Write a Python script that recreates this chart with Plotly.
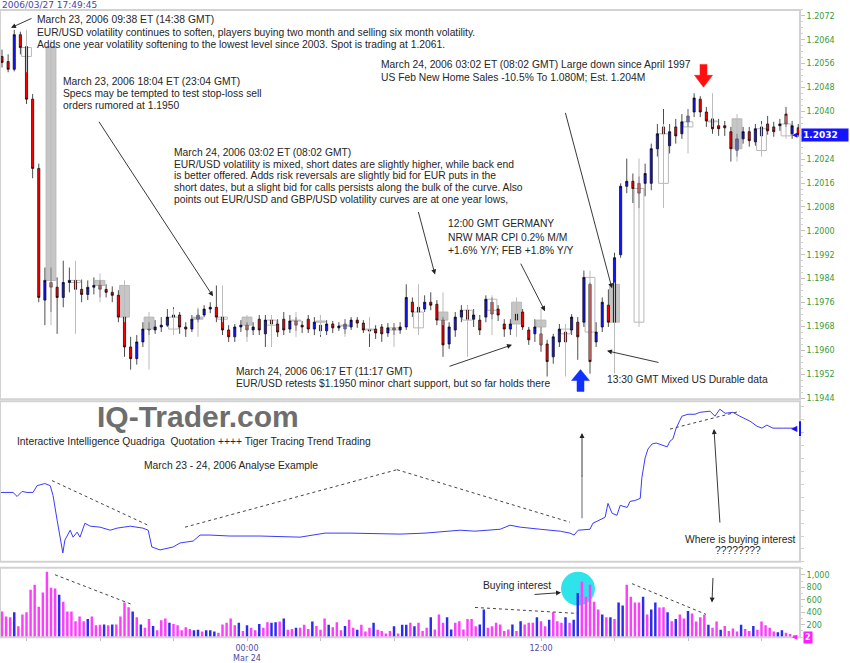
import pandas as pd
import plotly.graph_objects as go

W, H = 850, 663

# ---------------- DATA ----------------
candle_start = "2006-03-23 14:00"   # 15-minute EUR/USD candles
open_p = [1.20584, 1.20567, 1.20541, 1.20657, 1.20617, 1.20441, 1.20209, 1.19768, 1.19827, 1.19811,
          1.19777, 1.19827, 1.19834, 1.19804, 1.19787, 1.19811, 1.19817, 1.19804, 1.19794, 1.19784,
          1.19711, 1.19611, 1.19572, 1.19628, 1.19671, 1.19668, 1.19678, 1.19684, 1.19711, 1.19718,
          1.19678, 1.19671, 1.19704, 1.19718, 1.19738, 1.19744, 1.19711, 1.19668, 1.19645, 1.19678,
          1.19684, 1.19668, 1.19704, 1.19655, 1.19701, 1.19688, 1.19704, 1.19671, 1.19698, 1.19684,
          1.19704, 1.19671, 1.19684, 1.19665, 1.19688, 1.19675, 1.19671, 1.19678, 1.19701, 1.19691,
          1.19668, 1.19671, 1.19678, 1.19658, 1.19675, 1.19668, 1.19678, 1.19761, 1.19728, 1.19738,
          1.19761, 1.19754, 1.19701, 1.19621, 1.19668, 1.19711, 1.19734, 1.19704, 1.19701, 1.19711,
          1.19761, 1.19738, 1.19688, 1.19671, 1.19701, 1.19728, 1.19668, 1.19655, 1.19655, 1.19621,
          1.19578, 1.19628, 1.19661, 1.19668, 1.19694, 1.19694, 1.19821, 1.19628, 1.19678, 1.19751,
          1.19694, 1.19920, 1.20149, 1.20166, 1.20159, 1.20159, 1.20159, 1.20275, 1.20348, 1.20285,
          1.20348, 1.20325, 1.20365, 1.20398, 1.20441, 1.20398, 1.20375, 1.20352, 1.20352, 1.20332,
          1.20269, 1.20308, 1.20332, 1.20298, 1.20318, 1.20358, 1.20348, 1.20352, 1.20391, 1.20325,
          1.20345]
close_p = [1.20564, 1.20541, 1.20657, 1.20614, 1.20441, 1.20209, 1.19777, 1.19834, 1.19811, 1.19777,
           1.19827, 1.19834, 1.19804, 1.19787, 1.19811, 1.19817, 1.19804, 1.19794, 1.19784, 1.19711,
           1.19611, 1.19572, 1.19628, 1.19671, 1.19668, 1.19678, 1.19684, 1.19711, 1.19718, 1.19678,
           1.19671, 1.19704, 1.19718, 1.19738, 1.19744, 1.19711, 1.19668, 1.19645, 1.19678, 1.19684,
           1.19668, 1.19678, 1.19668, 1.19701, 1.19688, 1.19661, 1.19668, 1.19698, 1.19684, 1.19678,
           1.19671, 1.19694, 1.19665, 1.19688, 1.19675, 1.19681, 1.19688, 1.19701, 1.19691, 1.19668,
           1.19665, 1.19658, 1.19655, 1.19675, 1.19668, 1.19678, 1.19777, 1.19728, 1.19744, 1.19761,
           1.19751, 1.19701, 1.19618, 1.19678, 1.19711, 1.19734, 1.19704, 1.19718, 1.19668, 1.19771,
           1.19721, 1.19718, 1.19671, 1.19688, 1.19721, 1.19678, 1.19635, 1.19678, 1.19618, 1.19562,
           1.19645, 1.19671, 1.19628, 1.19711, 1.19645, 1.19844, 1.19562, 1.19661, 1.19761, 1.19694,
           1.19910, 1.20149, 1.20166, 1.20142, 1.20126, 1.20192, 1.20275, 1.20325, 1.20325, 1.20332,
           1.20318, 1.20365, 1.20385, 1.20445, 1.20398, 1.20368, 1.20342, 1.20342, 1.20345, 1.20275,
           1.20308, 1.20332, 1.20302, 1.20342, 1.20348, 1.20335, 1.20332, 1.20358, 1.20358, 1.20352,
           1.20322]
high_p = [1.20607, 1.20591, 1.20673, 1.20667, 1.20640, 1.20458, 1.20225, 1.19877, 1.19877, 1.19844,
          1.19900, 1.19877, 1.19857, 1.19837, 1.19834, 1.19844, 1.19834, 1.19821, 1.19814, 1.19801,
          1.19728, 1.19645, 1.19651, 1.19694, 1.19694, 1.19701, 1.19711, 1.19738, 1.19744, 1.19728,
          1.19694, 1.19718, 1.19738, 1.19751, 1.19761, 1.19817, 1.19718, 1.19684, 1.19688, 1.19701,
          1.19694, 1.19694, 1.19718, 1.19718, 1.19718, 1.19704, 1.19728, 1.19718, 1.19711, 1.19698,
          1.19718, 1.19711, 1.19694, 1.19701, 1.19698, 1.19694, 1.19704, 1.19711, 1.19711, 1.19701,
          1.19684, 1.19684, 1.19688, 1.19691, 1.19691, 1.19694, 1.19821, 1.19777, 1.19761, 1.19784,
          1.19794, 1.19768, 1.19711, 1.19694, 1.19728, 1.19751, 1.19751, 1.19738, 1.19718, 1.19784,
          1.19777, 1.19751, 1.19704, 1.19704, 1.19738, 1.19738, 1.19678, 1.19704, 1.19678, 1.19635,
          1.19655, 1.19688, 1.19684, 1.19721, 1.19711, 1.19867, 1.19827, 1.19694, 1.19777, 1.19804,
          1.19927, 1.20159, 1.20242, 1.20192, 1.20182, 1.20225, 1.20292, 1.20358, 1.20408, 1.20358,
          1.20375, 1.20391, 1.20408, 1.20461, 1.20451, 1.20415, 1.20391, 1.20375, 1.20368, 1.20348,
          1.20325, 1.20348, 1.20348, 1.20358, 1.20368, 1.20385, 1.20365, 1.20375, 1.20415, 1.20368,
          1.20358]
low_p = [1.20547, 1.20531, 1.20534, 1.20591, 1.20425, 1.20176, 1.19761, 1.19684, 1.19728, 1.19655,
         1.19744, 1.19794, 1.19777, 1.19761, 1.19768, 1.19787, 1.19777, 1.19777, 1.19761, 1.19694,
         1.19578, 1.19535, 1.19552, 1.19611, 1.19651, 1.19655, 1.19661, 1.19678, 1.19694, 1.19655,
         1.19645, 1.19661, 1.19694, 1.19711, 1.19724, 1.19694, 1.19651, 1.19628, 1.19628, 1.19661,
         1.19645, 1.19651, 1.19651, 1.19611, 1.19661, 1.19645, 1.19651, 1.19658, 1.19665, 1.19658,
         1.19658, 1.19651, 1.19645, 1.19651, 1.19658, 1.19665, 1.19655, 1.19668, 1.19675, 1.19658,
         1.19611, 1.19638, 1.19628, 1.19645, 1.19651, 1.19655, 1.19668, 1.19711, 1.19718, 1.19728,
         1.19734, 1.19684, 1.19578, 1.19605, 1.19645, 1.19694, 1.19684, 1.19678, 1.19651, 1.19694,
         1.19704, 1.19698, 1.19645, 1.19651, 1.19684, 1.19668, 1.19618, 1.19628, 1.19595, 1.19512,
         1.19555, 1.19611, 1.19605, 1.19651, 1.19568, 1.19678, 1.19522, 1.19611, 1.19661, 1.19678,
         1.19678, 1.19910, 1.20126, 1.20093, 1.20076, 1.20116, 1.20136, 1.20249, 1.20292, 1.20259,
         1.20292, 1.20308, 1.20348, 1.20381, 1.20381, 1.20348, 1.20325, 1.20318, 1.20318, 1.20232,
         1.20249, 1.20292, 1.20282, 1.20285, 1.20308, 1.20322, 1.20315, 1.20335, 1.20348, 1.20308,
         1.20315]

vol_start = "2006-03-23 14:00"   # 10-minute tick volume
volume = [410, 330, 320, 400, 175, 365, 400, 760, 840, 490,
          715, 1050, 795, 780, 680, 570, 410, 410, 255, 330,
          255, 290, 330, 190, 200, 205, 190, 205, 205, 330,
          555, 480, 410, 320, 205, 150, 290, 180, 110, 270,
          300, 230, 210, 190, 110, 160, 130, 110, 120, 90,
          110, 110, 90, 70, 205, 230, 300, 190, 230, 100,
          190, 150, 110, 210, 150, 240, 230, 240, 250, 300,
          120, 130, 150, 150, 200, 130, 250, 180, 120, 300,
          200, 160, 240, 110, 180, 280, 150, 120, 200, 90,
          150, 230, 120, 100, 60, 100, 175, 60, 200, 200,
          230, 175, 230, 100, 150, 320, 125, 365, 230, 320,
          125, 230, 255, 125, 290, 290, 175, 205, 445, 150,
          175, 230, 205, 100, 125, 205, 100, 255, 205, 230,
          230, 320, 255, 175, 280, 400, 255, 230, 320, 230,
          280, 710, 890, 650, 840, 570, 445, 365, 320, 320,
          290, 555, 510, 840, 650, 555, 555, 650, 365, 445,
          555, 475, 480, 400, 255, 290, 365, 300, 420, 380,
          250, 320, 360, 200, 150, 250, 120, 180, 100, 140,
          90, 200, 130, 100, 180, 120, 250, 190, 150, 90,
          80, 110, 70, 50, 30, 2]
vol_blue_idx = [3, 14, 21, 25, 27, 32, 34, 37, 41, 47, 48, 50, 51, 52, 58, 60, 63, 66, 67, 69,
                72, 76, 80, 84, 87, 91, 96, 98, 99, 101, 105, 109, 110, 117, 118, 125, 127, 131,
                134, 138, 140, 141, 147, 149, 151, 152, 157, 159, 160, 163, 165, 168, 173, 176,
                181, 184, 190, 191]

ind_base = "2006-03-23 13:50"   # trend indicator readings (minutes after base)
ind_minutes = [5, 37, 47, 59, 71, 86, 96, 115, 128, 135, 145, 152, 159, 164, 177, 184, 194, 201,
               213, 226, 250, 275, 292, 324, 355, 368, 377, 397, 414, 429, 446, 463, 478, 495,
               519, 568, 642, 740, 801, 862, 936, 985, 1046, 1075, 1132, 1168, 1230, 1254, 1279,
               1328, 1377, 1401, 1411, 1421, 1450, 1457, 1475, 1487, 1494, 1504, 1516, 1524, 1541,
               1548, 1560, 1573, 1577, 1585, 1592, 1602, 1612, 1629, 1639, 1646, 1653, 1661, 1675,
               1690, 1707, 1719, 1744, 1756, 1768, 1781, 1800, 1817, 1842, 1859, 1871, 1883, 1898,
               1923, 1957]
ind_values = [43.0, 43.0, 40.5, 43.6, 43.0, 43.0, 47.2, 48.5, 47.2, 41.1, 25.8, 16.6, 5.5, 13.5,
              19.6, 15.3, 18.4, 15.3, 23.9, 22.1, 21.5, 19.6, 20.9, 22.1, 20.9, 19.6, 9.2, 7.4,
              8.6, 9.2, 11.7, 12.3, 12.9, 16.6, 16.6, 16.0, 16.0, 15.3, 17.8, 17.8, 17.2, 17.2,
              17.8, 18.4, 19.6, 19.0, 20.2, 22.7, 21.5, 20.2, 19.0, 17.8, 16.6, 19.6, 20.2, 23.9,
              26.4, 27.6, 36.2, 30.1, 28.8, 35.0, 33.7, 37.4, 38.0, 39.3, 52.1, 64.4, 69.9, 73.0,
              73.6, 71.8, 71.2, 74.8, 76.1, 82.8, 90.2, 91.4, 91.4, 92.6, 93.3, 90.2, 94.5, 92.0,
              92.6, 90.2, 87.1, 84.0, 82.8, 84.7, 82.8, 82.8, 82.8]

price_ticks = [1.1944, 1.1952, 1.1960, 1.1968, 1.1976, 1.1984, 1.1992, 1.2000, 1.2008,
               1.2016, 1.2024, 1.2040, 1.2048, 1.2056, 1.2064, 1.2072]
vol_ticks = [200, 400, 600, 800, 1000]
last_price = 1.2032
last_volume = 2

# ---------------- DERIVED ----------------
t15 = pd.date_range(candle_start, periods=len(open_p), freq="15min")
t10 = pd.date_range(vol_start, periods=len(volume), freq="10min")
t_ind = pd.to_datetime(ind_base) + pd.to_timedelta(ind_minutes, unit="min")

# hourly overlay candles aggregated from the 15-minute candles
n = len(open_p)
hx, ho, hc, hh, hl = [], [], [], [], []
for s in range(0, n, 4):
    e = min(s + 4, n)
    hx.append(t15[s] + pd.Timedelta(hours=1))
    ho.append(open_p[s]); hc.append(close_p[e - 1])
    hh.append(max(high_p[s:e])); hl.append(min(low_p[s:e]))

GREEN = "#3a9a3a"
TXT = "#262626"
FONT = "Liberation Sans, Arial, sans-serif"

fig = go.Figure()

# hourly overlay (gray/white boxes + gray wicks)
wx, wy = [], []
for x, h_, l_ in zip(hx, hh, hl):
    wx += [x, x, None]; wy += [h_, l_, None]
fig.add_trace(go.Scatter(x=wx, y=wy, mode="lines", line=dict(color="#bcbcbc", width=1),
                         xaxis="x", yaxis="y", hoverinfo="skip"))
fig.add_trace(go.Bar(x=hx, y=[c - o for o, c in zip(ho, hc)], base=ho, width=24 * 60 * 1000,
                     marker=dict(color=["#c6c6c6" if c < o else "#ffffff" for o, c in zip(ho, hc)],
                                 line=dict(color="#b8b8b8", width=1)),
                     xaxis="x", yaxis="y", hoverinfo="skip"))

# 15-min candles
fig.add_trace(go.Candlestick(
    x=t15, open=open_p, high=high_p, low=low_p, close=close_p,
    increasing=dict(fillcolor="#1414ff", line=dict(color="#000000", width=0.7)),
    decreasing=dict(fillcolor="#ff0000", line=dict(color="#000000", width=0.7)),
    whiskerwidth=0, xaxis="x", yaxis="y", hoverinfo="skip"))

# indicator line
fig.add_trace(go.Scatter(x=t_ind, y=ind_values, mode="lines", line=dict(color="#3a3aff", width=1),
                         xaxis="x", yaxis="y2", hoverinfo="skip"))

# volume
blue_set = set(vol_blue_idx)
fig.add_trace(go.Bar(x=t10, y=volume, width=6 * 60 * 1000,
                     marker=dict(color=["#2a2af0" if k in blue_set else "#ff3cff" for k in range(len(volume))],
                                 line=dict(width=0)),
                     xaxis="x", yaxis="y3", hoverinfo="skip"))

# ---------------- LAYOUT HELPERS ----------------
def px(x):
    return x / W


def py(y):
    return 1 - y / H


annotations = []
shapes = []


def text(x, y, s, size=10.3, color=TXT, anchor="left", family=FONT):
    annotations.append(dict(xref="paper", yref="paper", x=px(x), y=py(y), text=s, showarrow=False,
                            xanchor=anchor, yanchor="middle", borderpad=0,
                            font=dict(family=family, size=size, color=color)))


def arrow(tx, ty, hx_, hy_, color="#222222"):
    annotations.append(dict(xref="paper", yref="paper", x=px(hx_), y=py(hy_), ax=tx - hx_, ay=ty - hy_,
                            axref="pixel", ayref="pixel", text="", showarrow=True, arrowhead=2,
                            arrowsize=1.1, arrowwidth=0.9, arrowcolor=color, standoff=0))


def line(x0, y0, x1, y1, color="#444444", width=1, dash=None):
    d = dict(type="line", xref="paper", yref="paper", x0=px(x0), y0=py(y0), x1=px(x1), y1=py(y1),
             line=dict(color=color, width=width))
    if dash:
        d["line"]["dash"] = dash
    shapes.append(d)


def rect(x0, y0, x1, y1, color="#d2d2d2", width=2):
    shapes.append(dict(type="rect", xref="paper", yref="paper", x0=px(x0), y0=py(y0), x1=px(x1),
                       y1=py(y1), line=dict(color=color, width=width), fillcolor="rgba(0,0,0,0)"))


def poly(points, color):
    path = "M " + " L ".join(f"{px(a):.5f},{py(b):.5f}" for a, b in points) + " Z"
    shapes.append(dict(type="path", xref="paper", yref="paper", path=path, fillcolor=color,
                       line=dict(color=color, width=0.5)))


# panel frames
rect(0, 10, 800, 403)
rect(0, 405, 800, 567)
rect(0, 573, 800, 643)

# header
text(1, 5, "2006/03/27 17:49:45", size=9, color="#4646a8", family="DejaVu Sans, sans-serif")

# top panel comments
text(36, 20, "March 23, 2006 09:38 ET (14:38 GMT)")
text(36, 32.5, "EUR/USD volatility continues to soften, players buying two month and selling six month volatility.")
text(36, 44.5, "Adds one year volatility softening to the lowest level since 2003. Spot is trading at 1.2061.")
arrow(33, 18, 11, 28)

text(62, 82, "March 23, 2006 18:04 ET (23:04 GMT)")
text(62, 94.5, "Specs may be tempted to test stop-loss sell")
text(62, 106.5, "orders rumored at 1.1950")
arrow(98, 123, 213, 299)

for k, s in enumerate(["March 24, 2006 03:02 ET (08:02 GMT)",
                       "EUR/USD volatility is mixed, short dates are slightly higher, while back end",
                       "is better offered. Adds risk reversals are slightly bid for EUR puts in the",
                       "short dates, but a slight bid for calls persists along the bulk of the curve. Also",
                       "points out EUR/USD and GBP/USD volatility curves are at one year lows,"]):
    text(173, 153.5 + 12 * k, s)
arrow(418, 213, 435, 277)

text(447, 226, "12:00 GMT GERMANY")
text(447, 240, "NRW MAR CPI 0.2% M/M")
text(447, 253, "+1.6% Y/Y; FEB +1.8% Y/Y")
arrow(520, 265, 545, 314)

text(380, 65, "March 24, 2006 03:02 ET (08:02 GMT) Large down since April 1997")
text(380, 78, "US Feb New Home Sales -10.5% To 1.080M; Est. 1.204M")
arrow(565, 114, 612, 291)

text(235, 375, "March 24, 2006 06:17 ET (11:17 GMT)")
text(235, 387.5, "EUR/USD retests $1.1950 minor chart support, but so far holds there")
arrow(448, 370, 512, 348)

text(606, 383, "13:30 GMT Mixed US Durable data")
arrow(660, 366, 607, 354)

# red down / blue up block arrows
poly([(700, 65), (707, 65), (707, 76), (712.5, 76), (703.5, 88), (694.5, 76), (700, 76)], "#ff1010")
poly([(577, 395), (584, 395), (584, 384), (589.5, 384), (580.5, 373), (571.5, 384), (577, 384)], "#1030ff")

# middle panel
text(96, 420.5, "<b>IQ-Trader.com</b>", size=30, color="#6e6e6e")
text(16, 446, "Interactive Intelligence Quadriga  Quotation ++++ Tiger Tracing Trend Trading")
text(143, 470, "March 23 - 24, 2006 Analyse Example")
text(684, 544, "Where is buying interest")
text(738, 556, "????????", anchor="center")
line(52, 485, 148, 530, dash="dot")
line(185, 532, 397, 474, dash="dot")
line(397, 474, 570, 527, dash="dot")
line(670, 433, 740, 415, dash="dot")
line(582, 480, 582, 523, color="#9a9a9a", width=1.5)
arrow(582, 482, 582, 437)
arrow(720, 528, 714, 433)

# volume panel
shapes.append(dict(type="circle", xref="paper", yref="paper", x0=px(561), x1=px(595), y0=py(611),
                   y1=py(577), fillcolor="#2fe3ea", line=dict(width=0), layer="below"))
text(482, 591, "Buying interest")
arrow(533, 600, 561, 598)
line(55, 580, 132, 610, dash="dot")
line(475, 613, 577, 619, dash="dot")
line(632, 589, 706, 620, dash="dot")
arrow(713, 582, 712, 608)

# right-side last value markers
annotations.append(dict(xref="paper", yref="y", x=px(800.5), y=last_price, text="<b>1.2032</b>",
                        showarrow=False, xanchor="left", yanchor="middle", bgcolor="#1414ff",
                        borderpad=1, width=44, align="left",
                        font=dict(family="DejaVu Sans, sans-serif", size=9, color="white")))
annotations.append(dict(xref="paper", yref="y", x=px(800), y=last_price, text="◀", showarrow=False,
                        xanchor="right", yanchor="middle",
                        font=dict(family="DejaVu Sans", size=7, color="#1414ff")))
annotations.append(dict(xref="paper", yref="y2", x=px(800), y=ind_values[-1], text="◀", showarrow=False,
                        xanchor="right", yanchor="middle",
                        font=dict(family="DejaVu Sans", size=8, color="#1414ff")))
line(800, 425, 800, 440, color="#1414ff", width=2)
annotations.append(dict(xref="paper", yref="y3", x=px(800), y=last_volume, text="◀", showarrow=False,
                        xanchor="right", yanchor="middle",
                        font=dict(family="DejaVu Sans", size=7, color="#ff20ff")))
annotations.append(dict(xref="paper", yref="y3", x=px(803), y=last_volume, text="<b>2</b>",
                        showarrow=False, xanchor="left", yanchor="middle", bgcolor="#ff20ff",
                        borderpad=1, font=dict(family="DejaVu Sans", size=8, color="white")))

# x ticks
xt = pd.date_range("2006-03-23 15:00", "2006-03-24 21:00", freq="3h")
xtt = []
for t in xt:
    if t.hour == 0:
        xtt.append("00:00<br>Mar 24")
    elif t.hour == 12:
        xtt.append("12:00")
    else:
        xtt.append("")

tickfont = dict(family="DejaVu Sans, sans-serif", size=8, color=GREEN)
fig.update_layout(
    width=W, height=H, margin=dict(l=0, r=0, t=0, b=0),
    paper_bgcolor="white", plot_bgcolor="white", showlegend=False,
    barmode="overlay", boxgap=0.5, hovermode=False,
    xaxis=dict(domain=[0, 800 / W], anchor="y3", type="date",
               range=["2006-03-23 13:55:05", "2006-03-24 22:34:17"],
               rangeslider=dict(visible=False), showgrid=False, zeroline=False,
               tickmode="array", tickvals=list(xt), ticktext=xtt,
               ticks="outside", ticklen=3, tickcolor="#c0c0c0",
               tickfont=dict(family="DejaVu Sans, sans-serif", size=8, color="#4a4aa6"),
               showline=False),
    yaxis=dict(domain=[1 - 403 / H, 1 - 10 / H], range=[1.194356, 1.207399], side="right",
               anchor="x", tickmode="array", tickvals=price_ticks, tickformat=".4f",
               tickfont=tickfont, ticks="outside", ticklen=4, tickcolor="#c4c4c4",
               showline=True, linecolor="#d0d0d0", linewidth=1, showgrid=False, zeroline=False,
               minor=dict(tickmode="linear", tick0=1.1944, dtick=0.0002, ticklen=2,
                          tickcolor="#d0d0d0", ticks="outside")),
    yaxis2=dict(domain=[1 - 567 / H, 1 - 405 / H], range=[0, 99.4], side="right", anchor="x",
                showticklabels=False, ticks="outside", ticklen=3, dtick=8, tickcolor="#d0d0d0",
                showline=True, linecolor="#d0d0d0", showgrid=False, zeroline=False),
    yaxis3=dict(domain=[1 - 643 / H, 1 - 573 / H], range=[0, 1113], side="right", anchor="x",
                tickmode="array", tickvals=vol_ticks, tickformat=",d", tickfont=tickfont,
                ticks="outside", ticklen=4, tickcolor="#c4c4c4",
                minor=dict(tickmode="linear", tick0=0, dtick=100, ticklen=2, tickcolor="#d0d0d0",
                           ticks="outside"),
                showline=True, linecolor="#d0d0d0", showgrid=False, zeroline=False),
    annotations=annotations, shapes=shapes,
)

fig.write_html("out.html")
